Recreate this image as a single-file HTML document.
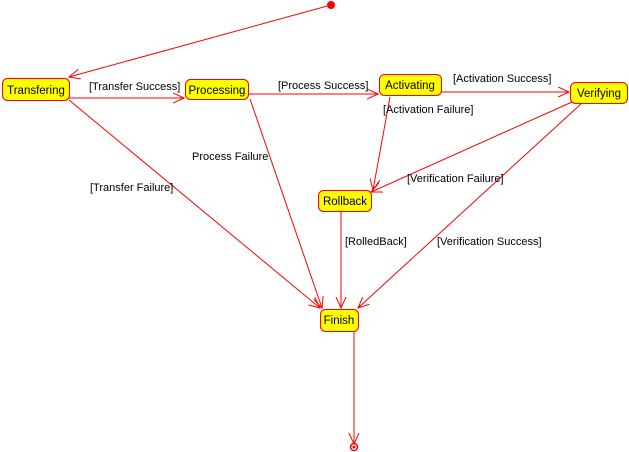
<!DOCTYPE html>
<html><head><style>body{margin:0;background:#fff}svg{display:block}text{font-family:"Liberation Sans",sans-serif;font-size:11px;fill:#000}.n{font-size:11.5px}</style></head><body>
<svg width="629" height="452" viewBox="0 0 629 452">
<defs><marker id="a" markerWidth="12" markerHeight="12" refX="11" refY="6" orient="auto" markerUnits="userSpaceOnUse"><path d="M0,1 L11,6 L0,11" fill="none" stroke="red" stroke-width="1"/></marker></defs>
<g stroke="red" stroke-width="1" fill="none" marker-end="url(#a)">
<line x1="331" y1="5" x2="69" y2="77"/>
<line x1="69" y1="98" x2="184" y2="98"/>
<line x1="248" y1="94" x2="378" y2="94"/>
<line x1="441" y1="92" x2="569" y2="92"/>
<line x1="390" y1="97" x2="373" y2="190"/>
<line x1="572" y1="102" x2="371" y2="192"/>
<line x1="69" y1="100" x2="320" y2="308"/>
<line x1="250" y1="99" x2="322" y2="308"/>
<line x1="341" y1="211" x2="341" y2="308"/>
<line x1="582" y1="103" x2="358" y2="308"/>
<line x1="354" y1="331" x2="354" y2="444"/>
</g>
<circle cx="331" cy="5" r="4" fill="red"/>
<circle cx="354" cy="447" r="3.5" fill="#fff" stroke="red" stroke-width="1.5"/>
<circle cx="354" cy="447" r="1.5" fill="red"/>
<g fill="#ffff00" stroke="red" stroke-width="1">
<rect x="2.5" y="78.5" width="67" height="22" rx="5"/>
<rect x="185.5" y="79.5" width="63" height="20" rx="5"/>
<rect x="379.5" y="74.5" width="62" height="21" rx="5"/>
<rect x="570.5" y="82.5" width="57" height="21" rx="5"/>
<rect x="318.5" y="190.5" width="53" height="21" rx="5"/>
<rect x="320.5" y="309.5" width="38" height="22" rx="5"/>
</g>
<g text-anchor="middle" class="n">
<text class="n" x="36" y="94">Transfering</text>
<text class="n" x="217" y="94">Processing</text>
<text class="n" x="410" y="89">Activating</text>
<text class="n" x="599" y="97">Verifying</text>
<text class="n" x="345" y="205">Rollback</text>
<text class="n" x="339" y="324">Finish</text>
</g>
<text x="89" y="90">[Transfer Success]</text>
<text x="278" y="89">[Process Success]</text>
<text x="453" y="82">[Activation Success]</text>
<text x="383" y="113">[Activation Failure]</text>
<text x="407" y="182">[Verification Failure]</text>
<text x="437" y="245">[Verification Success]</text>
<text x="192" y="160">Process Failure</text>
<text x="90" y="191">[Transfer Failure]</text>
<text x="345" y="245">[RolledBack]</text>
</svg>
</body></html>
